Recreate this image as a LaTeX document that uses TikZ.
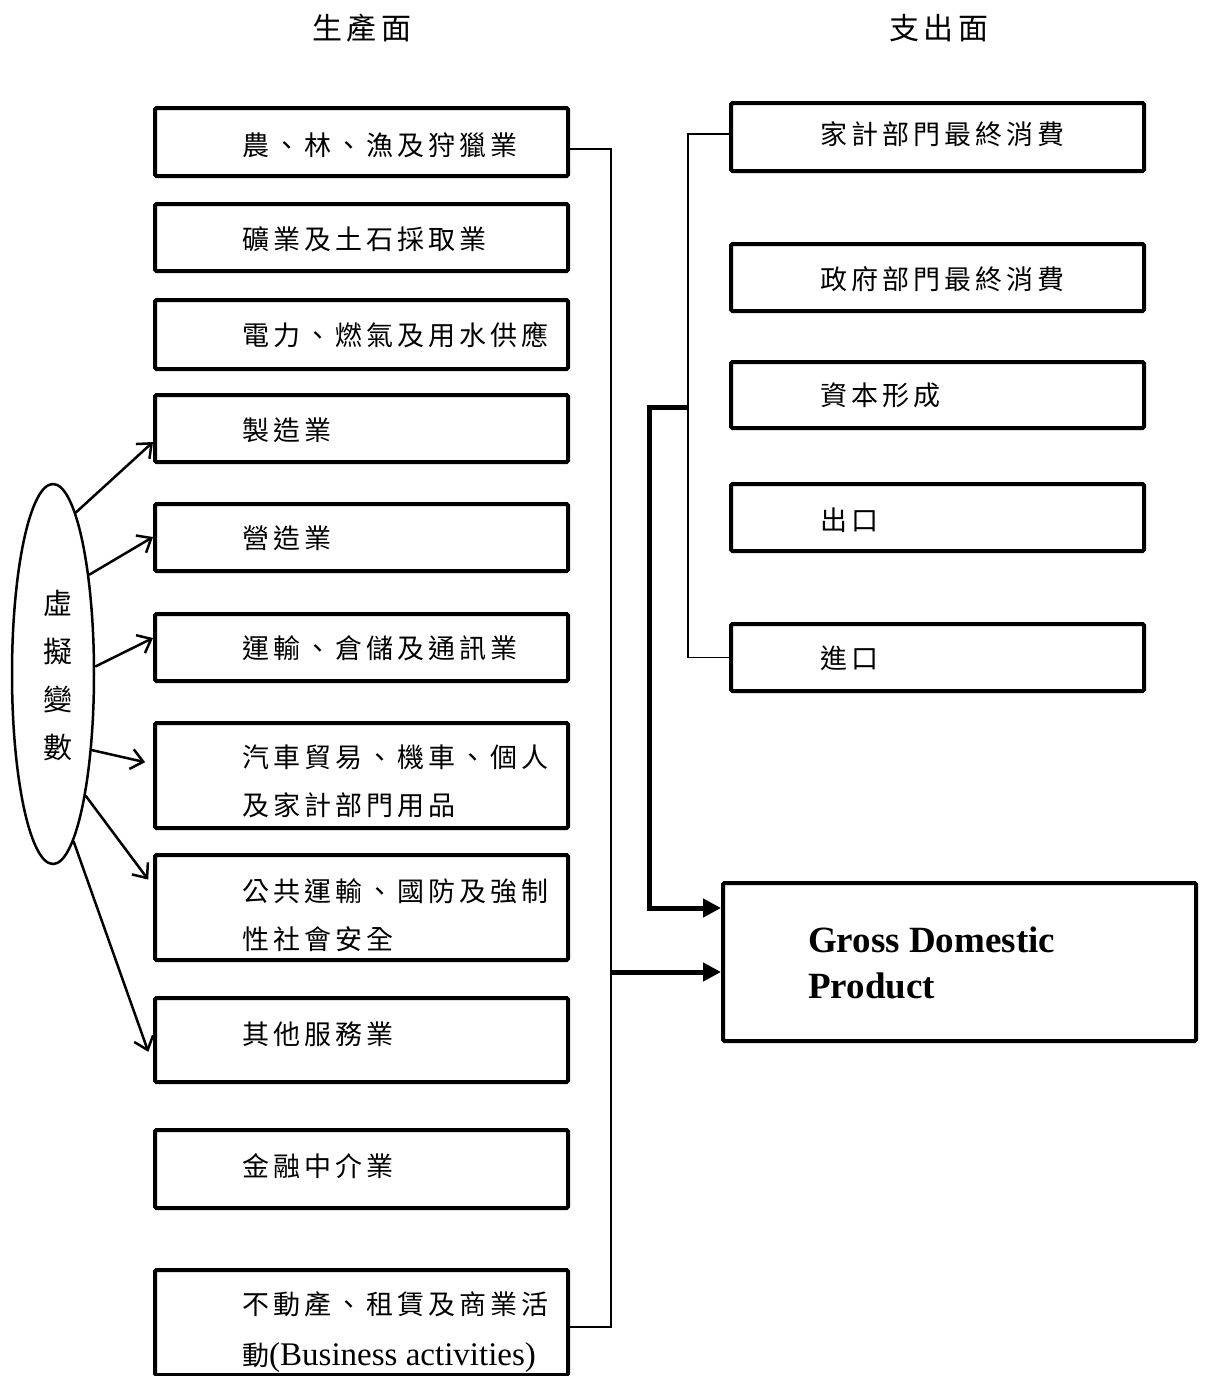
\documentclass[tikz,border=0pt]{standalone}
\usepackage{fontspec}
\setmainfont{Liberation Serif}
\newfontfamily\cjk{Noto Sans CJK TC}[LetterSpace=15]
\newfontfamily\cjkn{Noto Sans CJK TC}
\usetikzlibrary{shapes.geometric,arrows.meta}
\begin{document}
\begin{tikzpicture}[x=1pt,y=-1pt,
  box/.style={draw, line width=4pt, rounded corners=1.5pt, minimum width=413pt, inner sep=0pt},
  gdpbox/.style={draw, line width=4pt, rounded corners=1.5pt, minimum width=473pt, minimum height=158pt, inner sep=0pt},
  txt/.style={anchor=west, inner sep=0pt, align=left, font=\cjk\fontsize{27pt}{48pt}\selectfont},
  ttl/.style={anchor=west, inner sep=0pt, font=\cjk\fontsize{30pt}{34pt}\selectfont},
  gdptxt/.style={anchor=west, inner sep=0pt, align=left, font=\bfseries\fontsize{37pt}{46pt}\selectfont},
  dvshape/.style={draw, ellipse, line width=2.5pt, minimum width=82pt, minimum height=380pt, inner sep=0pt},
  dvtxt/.style={inner sep=0pt, align=center, font=\cjkn\fontsize{29pt}{48pt}\selectfont},
  arr/.style={line width=2.5pt, -{Straight Barb[length=12pt,width=20pt]}},
  thinline/.style={line width=1.5pt},
  thk/.style={line width=5pt, line join=miter, -{Triangle[length=18pt,width=18pt]}}
]
\useasboundingbox (0,0) rectangle (1205,1376);

% titles
\node[ttl] (tl) at (312,28) {生產面};
\node[ttl] (tr) at (889,28) {支出面};

% left boxes
\node[box, minimum height=68pt] (b1) at (361.5,142) {};
\node[box, minimum height=67pt] (b2) at (361.5,237.5) {};
\node[box, minimum height=69pt] (b3) at (361.5,334.5) {};
\node[box, minimum height=67pt] (b4) at (361.5,428.5) {};
\node[box, minimum height=67pt] (b5) at (361.5,537.5) {};
\node[box, minimum height=67pt] (b6) at (361.5,647.5) {};
\node[box, minimum height=105pt] (b7) at (361.5,775.5) {};
\node[box, minimum height=105pt] (b8) at (361.5,907.5) {};
\node[box, minimum height=84pt] (b9) at (361.5,1040) {};
\node[box, minimum height=78pt] (b10) at (361.5,1169) {};
\node[box, minimum height=105pt] (b11) at (361.5,1322.5) {};

\node[txt] (t1) at (242,145) {農、林、漁及狩獵業};
\node[txt] (t2) at (242,239) {礦業及土石採取業};
\node[txt] (t3) at (242,335) {電力、燃氣及用水供應};
\node[txt] (t4) at (242,430) {製造業};
\node[txt] (t5) at (242,538) {營造業};
\node[txt] (t6) at (242,648) {運輸、倉儲及通訊業};
\node[txt] (t7) at (242,781) {汽車貿易、機車、個人\\及家計部門用品};
\node[txt] (t8) at (242,915.5) {公共運輸、國防及強制\\性社會安全};
\node[txt] (t9) at (242,1034) {其他服務業};
\node[txt] (t10) at (242,1166) {金融中介業};
\node[txt] (t11) at (242,1332) {不動產、租賃及商業活\\[3pt]{\cjkn 動}{\rmfamily\fontsize{33pt}{40pt}\selectfont(Business activities)}};

% right boxes
\node[box, minimum height=68pt] (r1) at (937.5,137) {};
\node[box, minimum height=67pt] (r2) at (937.5,277.5) {};
\node[box, minimum height=66pt] (r3) at (937.5,395) {};
\node[box, minimum height=67pt] (r4) at (937.5,517.5) {};
\node[box, minimum height=67pt] (r5) at (937.5,657.5) {};

\node[txt] (rt1) at (820,134) {家計部門最終消費};
\node[txt] (rt2) at (820,279) {政府部門最終消費};
\node[txt] (rt3) at (820,395) {資本形成};
\node[txt] (rt4) at (820,520) {出口};
\node[txt] (rt5) at (820,658) {進口};

% GDP
\node[gdpbox] (gdp) at (959.5,962) {};
\node[gdptxt] (gt) at (808,962.5) {Gross Domestic\\Product};

% dummy variable ellipse
\node[dvshape] (dv) at (53,674) {};
\node[dvtxt] (dvt) at (58,675) {虛\\擬\\變\\數};

% arrows from ellipse
\draw[arr] (dv.82) -- (b4.west |- 0,442);
\draw[arr] (dv.70) -- (b5.west |- 0,537);
\draw[arr] (dv.10) -- (b6.west |- 0,638);
\draw[arr, shorten >=8pt] (dv.-63) -- (b7.west |- 0,764);
\draw[arr, shorten >=8pt] (dv.-75) -- (b8.west |- 0,886);
\draw[arr, shorten >=14pt] (dv.-83) -- (b9.west |- 0,1065);

% brackets
\coordinate (lj) at (611,972);
\coordinate (rj) at (688,407);
\coordinate (rc) at (649,908);
\draw[thinline] ([yshift=-7pt]b1.east) -| (lj) |- ([yshift=-4.5pt]b11.east);
\draw[thinline] ([yshift=3pt]r1.west) -| (rj) |- (r5.west);
\draw[thk] (lj) -- (lj -| gdp.west);
\draw[thk] (rj) -| (rc) -- (rc -| gdp.west);
\end{tikzpicture}
\end{document}
